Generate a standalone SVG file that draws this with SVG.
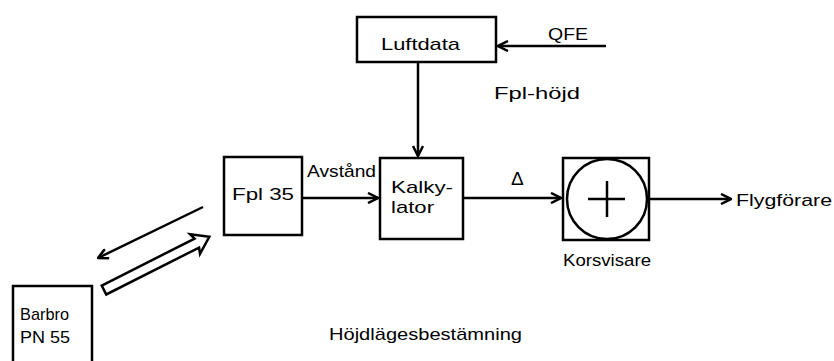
<svg xmlns="http://www.w3.org/2000/svg" width="834" height="361" viewBox="0 0 834 361">
<style>
.box{fill:none;stroke:#000;stroke-width:2.5}
.ln{fill:none;stroke:#000;stroke-width:2.5}
text{font-family:"Liberation Sans",Arial,sans-serif;font-size:17px;fill:#000}
</style>
<defs>
<marker id="ah" viewBox="0 0 12 12" refX="11" refY="6" markerWidth="12" markerHeight="12" markerUnits="userSpaceOnUse" orient="auto">
<path d="M1,1 L11,6 L1,11" fill="none" stroke="#000" stroke-width="2.5"/>
</marker>
</defs>
<rect width="834" height="361" fill="#fff"/>
<g id="connectors">
<line class="ln" x1="606" y1="46" x2="498" y2="46" marker-end="url(#ah)"/>
<line class="ln" x1="418" y1="62" x2="418" y2="156" marker-end="url(#ah)"/>
<line class="ln" x1="302" y1="198" x2="378" y2="198" marker-end="url(#ah)"/>
<line class="ln" x1="463" y1="198" x2="561" y2="198" marker-end="url(#ah)"/>
<line class="ln" x1="649" y1="199" x2="731" y2="199" marker-end="url(#ah)"/>
<line class="ln" x1="203" y1="207" x2="98" y2="258" marker-end="url(#ah)"/>
<polygon class="ln" transform="translate(104,290) rotate(-26.8)" points="0,-5 104,-5 102,-11 118,0 102,11 104,5 0,5"/>
</g>
<g id="luftdata">
<rect class="box" x="357" y="17" width="139" height="45"/>
<text x="381" y="50" textLength="79" lengthAdjust="spacingAndGlyphs">Luftdata</text>
</g>
<g id="qfe"><text x="548" y="40" textLength="40" lengthAdjust="spacingAndGlyphs">QFE</text></g>
<g id="fplhojd"><text x="494" y="99" textLength="86" lengthAdjust="spacingAndGlyphs">Fpl-höjd</text></g>
<g id="fpl35">
<rect class="box" x="224" y="157" width="78" height="78"/>
<text x="232" y="200" textLength="62" lengthAdjust="spacingAndGlyphs">Fpl 35</text>
</g>
<g id="avstand"><text x="307" y="177" textLength="69" lengthAdjust="spacingAndGlyphs">Avstånd</text></g>
<g id="kalkylator">
<rect class="box" x="380" y="158" width="83" height="81"/>
<text x="391" y="193" textLength="62" lengthAdjust="spacingAndGlyphs">Kalky-</text>
<text x="391" y="213" textLength="43" lengthAdjust="spacingAndGlyphs">lator</text>
</g>
<g id="delta"><text x="511" y="185" style="font-size:19px">Δ</text></g>
<g id="korsvisare">
<rect class="box" x="563" y="158" width="86" height="82"/>
<circle class="ln" cx="607" cy="199" r="40"/>
<line class="ln" x1="588" y1="199" x2="625" y2="199"/>
<line class="ln" x1="607" y1="181" x2="607" y2="217"/>
<text x="563" y="266" textLength="88" lengthAdjust="spacingAndGlyphs">Korsvisare</text>
</g>
<g id="flygforare"><text x="736" y="206" textLength="96" lengthAdjust="spacingAndGlyphs">Flygförare</text></g>
<g id="barbro">
<path class="box" d="M13,361 V286 H92 V361"/>
<text x="20" y="320" textLength="49" lengthAdjust="spacingAndGlyphs">Barbro</text>
<text x="20" y="343" textLength="50" lengthAdjust="spacingAndGlyphs">PN 55</text>
</g>
<g id="title"><text x="329" y="340" textLength="193" lengthAdjust="spacingAndGlyphs">Höjdlägesbestämning</text></g>
</svg>
